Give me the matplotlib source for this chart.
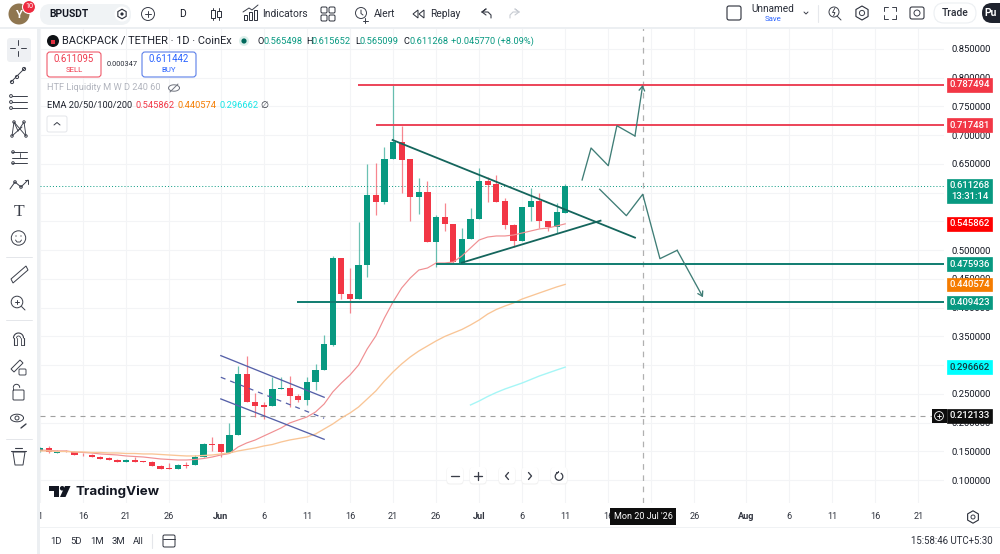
import numpy as np
import matplotlib
matplotlib.use("Agg")
import matplotlib.pyplot as plt
from matplotlib.patches import Circle, FancyBboxPatch, Polygon, Rectangle, RegularPolygon

plt.rcParams['font.family'] = ['Roboto', 'DejaVu Sans']

# day numbers count from 1 Jun, 11 May is -21
days = np.arange(-21, 41)

opens = [.1509, .1561, .1474, .1509, .1491, .1457, .1439, .1404, .1387, .1352, .1317,
         .1352, .1326, .1317, .1248, .1213, .1196, .1265, .1265, .1404, .1630,
         .1630, .1474, .1787, .2848, .2361, .2309, .2291, .2587, .2604, .2465,
         .2396, .2709, .2918, .3352, .4865, .4239, .4152, .4744, .5961, .5839,
         .6587, .6883, .6587, .5926, .6013, .5144, .5578, .5457, .4778, .5196,
         .5544, .6204, .6152, .5857, .5439, .5161, .5752, .5857, .5509, .5404, .565498]
highs = [.1578, .1587, .1518, .1518, .1500, .1474, .1448, .1413, .1396, .1361, .1361,
         .1404, .1335, .1326, .1257, .1300, .1274, .1317, .1439, .1648, .1752,
         .1630, .1996, .2987, .3161, .2517, .2361, .2796, .2796, .2813, .2500,
         .2796, .3022, .3526, .4900, .4865, .4691, .5491, .6500, .6517, .6796,
         .7875, .7161, .6587, .6257, .6204, .5613, .5822, .5457, .5387, .5735,
         .6431, .6274, .6309, .5909, .5457, .5752, .6083, .5996, .5509, .5822, .615652]
lows = [.1491, .1474, .1474, .1491, .1431, .1422, .1396, .1361, .1344, .1309, .1309,
        .1309, .1309, .1239, .1187, .1187, .1187, .1213, .1265, .1396, .1509,
        .1404, .1474, .1787, .2361, .2100, .2065, .2291, .2587, .2274, .2361,
        .2309, .2570, .2918, .3335, .4152, .3909, .4152, .4535, .5613, .5804,
        .6587, .5996, .5509, .5630, .5144, .4709, .5335, .4778, .4778, .5196,
        .5544, .5839, .5839, .5370, .5057, .5161, .5509, .5387, .5335, .5300, .565099]
closes = [.1561, .1491, .1509, .1500, .1439, .1448, .1404, .1370, .1352, .1317, .1352,
          .1317, .1317, .1248, .1196, .1196, .1265, .1248, .1404, .1630, .1613,
          .1491, .1787, .2848, .2361, .2291, .2274, .2587, .2604, .2465, .2396,
          .2709, .2918, .3369, .4865, .4239, .4152, .4744, .5961, .5839, .6587,
          .6883, .6570, .5926, .6013, .5144, .5578, .5457, .4796, .5196, .5544,
          .6204, .6135, .5839, .5439, .5161, .5752, .5857, .5509, .5404, .5665, .611268]

ema20 = [.1526, .1518, .1509, .1509, .1491, .1483, .1474, .1457, .1448, .1439, .1422,
         .1413, .1404, .1387, .1370, .1361, .1352, .1352, .1361, .1378, .1404,
         .1439, .1465, .1578, .1648, .1700, .1770, .1839, .1909, .1996, .2048,
         .2100, .2187, .2326, .2535, .2691, .2830, .3004, .3283, .3509, .3822,
         .4100, .4343, .4517, .4656, .4691, .4778, .4778, .4796, .4900, .5039,
         .5178, .5230, .5248, .5248, .5265, .5300, .5335, .5370, .5387, .5422, .5459]
ema50 = [.1509, .1509, .1500, .1500, .1491, .1491, .1483, .1483, .1474, .1474, .1465,
         .1465, .1457, .1457, .1448, .1439, .1430, .1422, .1422, .1430, .1439,
         .1457, .1474, .1509, .1535, .1561, .1596, .1622, .1665, .1700, .1726,
         .1752, .1804, .1891, .1978, .2082, .2169, .2274, .2413, .2552, .2726,
         .2883, .3022, .3144, .3248, .3335, .3422, .3500, .3561, .3622, .3700,
         .3787, .3891, .3970, .4030, .4083, .4152, .4204, .4257, .4309, .4361, .4406]
ema100_days = np.arange(29, 41)
ema100 = [.2309, .2378, .2457, .2526, .2587, .2639, .2691, .2752, .2813, .2865, .2917, .2967]

# drawings on the chart, (day, price)
level_prices = [0.787494, 0.717481, 0.475936, 0.409423]
level_starts = [15.9, 18.0, 25.0, 8.9]
tri_upper_x, tri_upper_y = [19.95, 48.1], [.6917, .5219]
tri_lower_x, tri_lower_y = [28.0, 44.1], [.4784, .5514]
up_x = [41.96, 43.0, 45.0, 46.0, 48.1, 49.0]
up_y = [.6222, .6778, .6470, .7166, .6987, .7874]
down_x = [44.0, 47.1, 49.0, 51.0, 53.0, 56.0]
down_y = [.6060, .5601, .5973, .4853, .4999, .4182]
chan_x = [0, 12]
chan_upper = [.3167, .2443]
chan_mid = [.2791, .2078]
chan_lower = [.2414, .1712]

last_price = 0.611268
cross_price = 0.212133
cross_day = 49

price_ticks = np.arange(0.10, 0.851, 0.05)
# 0.55 and 0.60 sit fully behind price tags in the picture
price_labels = ['0.100000', '0.150000', '0.200000', '0.250000', '0.300000', '0.350000', '0.400000', '0.450000',
                '0.500000', '', '', '0.650000', '0.700000', '0.750000', '0.800000', '0.850000']
date_ticks = [-21, -16, -11, -6, 0, 5, 10, 15, 20, 25, 30, 35, 40, 45, 50, 55, 61, 66, 71, 76, 81]
date_labels = ['1', '16', '21', '26', 'Jun', '6', '11', '16', '21', '26', 'Jul', '6', '11', '16',
               '', '26', 'Aug', '6', '11', '16', '21']

GREEN = '#089981'
RED = '#f23645'
TEAL = '#0f7c70'
DARK = '#131722'
GRID = '#f3f4f6'

fig = plt.figure(figsize=(10, 5.54), dpi=100, facecolor='white')
ax = fig.add_axes([0.040, 51 / 554, 0.904, 475 / 554])
ax.set_xlim(-20.88, 83.99)
ax.set_ylim(0.0604, 0.8865)
for s in ax.spines.values():
    s.set_visible(False)
ax.set_axisbelow(True)
ax.grid(True, color=GRID, lw=0.8)
ax.yaxis.tick_right()
ax.set_yticks(price_ticks)
ax.set_yticklabels(price_labels, fontsize=6.8, color=DARK)
ax.set_xticks(date_ticks)
ax.set_xticklabels(date_labels, fontsize=6.6, color='#30343f')
for lab, t in zip(ax.get_xticklabels(), date_labels):
    if t in ('Jun', 'Jul', 'Aug'):
        lab.set_fontweight('bold')
ax.tick_params(axis='y', length=0, pad=5.5)
ax.tick_params(axis='x', length=0, pad=6.5)

# candles
opens, highs, lows, closes = map(np.array, (opens, highs, lows, closes))
colors = np.where(closes >= opens, GREEN, RED)
ax.vlines(days, lows, highs, colors=colors, lw=0.9, alpha=0.6, zorder=3)
ax.bar(days, closes - opens, bottom=opens, width=0.72, color=colors, lw=0, zorder=4)

# emas
ax.plot(days, ema20, color='#f08f92', lw=0.85, zorder=5)
ax.plot(days, ema50, color='#f9c596', lw=0.95, zorder=5)
ax.plot(ema100_days, ema100, color='#a6f6f6', lw=1.0, zorder=5)

# crosshair and last price
ax.axhline(last_price, color=GREEN, lw=0.7, ls=(0, (1, 2.2)), zorder=2)
ax.axhline(cross_price, color='#a0a0a0', lw=0.8, ls=(0, (4.5, 4.5)), zorder=2)
ax.axvline(cross_day, color='#b0b0b0', lw=0.9, ls=(0, (4.5, 4.5)), zorder=2)

# drawings
for price, start in zip(level_prices, level_starts):
    col = '#ec4358' if price > last_price else TEAL
    ax.plot([start, 83.99], [price, price], color=col, lw=1.4, zorder=6, solid_capstyle='butt')
ax.plot(tri_upper_x, tri_upper_y, color='#14655c', lw=1.3, zorder=6)
ax.plot(tri_lower_x, tri_lower_y, color='#14655c', lw=1.3, zorder=6)
ax.plot(chan_x, chan_upper, color='#5560a8', lw=0.95, zorder=6)
ax.plot(chan_x, chan_lower, color='#5560a8', lw=0.95, zorder=6)
ax.plot(chan_x, chan_mid, color='#5560a8', lw=0.9, ls=(0, (4, 4)), zorder=6)
for xs, ys in ((up_x, up_y), (down_x, down_y)):
    ax.plot(xs[:-1], ys[:-1], color='#3f7d76', lw=0.95, zorder=6)
    ax.annotate('', xy=(xs[-1], ys[-1]), xytext=(xs[-2], ys[-2]), zorder=6,
                arrowprops=dict(arrowstyle='->,head_length=0.32,head_width=0.2', color='#3f7d76',
                                lw=0.95, shrinkA=0, shrinkB=0))

# price tags on the scale
tag_prices = [0.787494, 0.717481, 0.545862, 0.475936, 0.440574, 0.409423, 0.296662, 0.212133]
tag_fills = ['#f23645', '#f23645', '#ff0000', GREEN, '#f57c00', GREEN, '#00ffff', '#0e0e0e']
tag_texts = ['white', 'white', 'white', 'white', 'white', 'white', '#14343a', 'white']
ytrans = ax.get_yaxis_transform()
tag_x = (969.5 - 40) / 904
for price, fill, tc in zip(tag_prices, tag_fills, tag_texts):
    ax.annotate('%.6f' % price, xy=(tag_x, price), xycoords=ytrans, ha='center', va='center',
                fontsize=6.8, color=tc, fontweight='medium', zorder=12, annotation_clip=False,
                bbox=dict(boxstyle='square,pad=0.24', fc=fill, ec=fill, lw=0.5))
ax.annotate('%.6f\n13:31:14' % last_price, xy=(tag_x, last_price), xycoords=ytrans,
            xytext=(0, -3.6), textcoords='offset points', ha='center', va='center',
            fontsize=6.8, color='white', fontweight='medium', linespacing=1.25, zorder=12,
            annotation_clip=False, bbox=dict(boxstyle='square,pad=0.24', fc=GREEN, ec=GREEN, lw=0.5))

# everything around the chart lives on a pixel overlay
ui = fig.add_axes([0, 0, 1, 1], zorder=20)
ui.set_xlim(0, 1000)
ui.set_ylim(554, 0)
ui.axis('off')
ui.patch.set_alpha(0)


def txt(x, y, s, size=7.2, color=DARK, ha='left', weight='normal', **kw):
    ui.text(x, y, s, fontsize=size, color=color, ha=ha, va='center', fontweight=weight, **kw)


def line(xs, ys, color='#3a3e49', lw=0.7, **kw):
    ui.plot(xs, ys, color=color, lw=lw, solid_capstyle='round', **kw)


def rbox(x0, y0, x1, y1, fc='white', ec='none', lw=0.8, r=3, **kw):
    ui.add_patch(FancyBboxPatch((x0 + r, y0 + r), x1 - x0 - 2 * r, y1 - y0 - 2 * r,
                                boxstyle='round,pad=%g,rounding_size=%g' % (r, r),
                                fc=fc, ec=ec, lw=lw, **kw))


def ring(x, y, r, fc='none', ec='#3a3e49', lw=0.7):
    ui.add_patch(Circle((x, y), r, fc=fc, ec=ec, lw=lw))


# panel borders
ui.add_patch(Rectangle((0, 26.5), 1000, 2.5, fc='#eceff2', ec='none'))
ui.add_patch(Rectangle((36.5, 29), 3, 525, fc='#eceff2', ec='none'))
ui.add_patch(Rectangle((39.5, 526.5), 961, 1.5, fc='#f0f2f4', ec='none'))

# top bar
ring(19, 14, 10.5, fc='#8f7650', ec='none')
txt(19, 14.5, 'Y', 8, 'white', ha='center', weight='bold')
ring(29, 7, 6.5, fc='#ee2a3f', ec='white', lw=0.8)
txt(29, 7, '10', 5.2, 'white', ha='center')
rbox(40, 4, 131, 25, fc='#f0f3f5', r=10)
txt(49, 14, 'BPUSDT', 7.4, weight='bold')
ring(122, 14, 7.5, fc='white', ec='none')
ui.add_patch(RegularPolygon((122, 14), 6, radius=4.8, fc='none', ec='#2a2e39', lw=0.8))
ui.add_patch(Circle((122, 14), 1.6, fc='#2a2e39', ec='none'))
ring(148, 14, 6.5)
line([145, 151], [14, 14])
line([148, 148], [11, 17])
txt(182, 14, 'D', 7.4, ha='center')
for x, y0, y1, w0, w1 in ((213, 8, 20, 10, 18), (219, 8, 20, 11, 17)):
    line([x, x], [y0, y1], lw=0.7)
    ui.add_patch(Rectangle((x - 1.8, w0), 3.6, w1 - w0, fc='white', ec='#2a2e39', lw=0.7, zorder=3))
line([243, 249, 252, 258], [12, 8, 10, 5])
for x, h in ((244, 5), (249, 8), (254, 10)):
    ui.add_patch(Rectangle((x, 20 - h), 3.4, h, fc='white', ec='#2a2e39', lw=0.7))
txt(262, 14, 'Indicators', 7.4, '#2a2e39')
for x, y in ((324, 10), (332, 10), (324, 18), (332, 18)):
    rbox(x - 3, y - 3, x + 3, y + 3, fc='white', ec='#2a2e39', lw=0.7, r=1.3)
ring(361, 13, 5.5)
line([361, 361, 363], [10, 13.5, 15])
line([365, 365], [18, 23])
line([362.5, 367.5], [20.5, 20.5])
txt(374, 14, 'Alert', 7.4, '#2a2e39')
ui.add_patch(Polygon([[418, 10], [413, 14], [418, 18]], closed=True, fc='none', ec='#2a2e39', lw=0.7))
ui.add_patch(Polygon([[424, 10], [419, 14], [424, 18]], closed=True, fc='none', ec='#2a2e39', lw=0.7))
txt(430, 14, 'Replay', 7.4, '#2a2e39')
line([482, 486, 482, 486], [12, 9, 12, 15], lw=0.8)
line([482, 488, 491, 491], [12, 12, 15, 18], lw=0.8)
line([519, 515, 519, 515], [12, 9, 12, 15], color='#c8ccd3', lw=0.8)
line([519, 513, 510, 510], [12, 12, 15, 18], color='#c8ccd3', lw=0.8)
rbox(727, 6, 741, 20, fc='white', ec='#2a2e39', lw=0.8, r=2)
txt(773, 9.5, 'Unnamed', 7.2, '#2a2e39', ha='center')
txt(773, 19, 'Save', 5.6, '#2962ff', ha='center')
line([804, 806, 808], [12, 14, 12])
line([818, 818], [5, 22], color='#e6e8ec', lw=0.8)
ring(834, 12, 5)
line([837, 841], [16, 20])
ui.add_patch(Polygon([[835, 8], [832.5, 12.5], [835, 12.5], [833.5, 16]], closed=False, fc='none',
                     ec='#2a2e39', lw=0.6))
ui.add_patch(RegularPolygon((862, 13), 6, radius=7, fc='none', ec='#2a2e39', lw=0.8))
ring(862, 13, 2.6)
for sx, sy in ((-1, -1), (1, -1), (-1, 1), (1, 1)):
    line([890 + sx * 2, 890 + sx * 6, 890 + sx * 6], [13 + sy * 6, 13 + sy * 6, 13 + sy * 2])
rbox(910, 7, 924, 19, fc='white', ec='#2a2e39', lw=0.75, r=2)
ring(917, 13, 3)
rbox(934, 3, 976, 23, fc='white', ec='#eceff2', lw=0.8, r=10)
txt(955, 13.5, 'Trade', 7.4, '#2a2e39', ha='center', weight='medium')
rbox(982, 3, 1012, 23, fc='#1e222d', r=10)
txt(991, 13.5, 'Pu', 7.4, 'white', ha='center', weight='bold')

# left tool bar
rbox(7, 38, 31, 62, fc='#eef0f3', r=3)
line([10, 15], [48, 48])
line([21, 26], [48, 48])
line([18, 18], [40, 45])
line([18, 18], [51, 56])
line([11, 25], [82, 68])
ring(12, 82, 1.6, fc='white')
ring(17, 77, 1.6, fc='white')
ring(24, 69, 1.6, fc='white')
for y in (96, 102, 108):
    line([12, 27], [y, y])
    ring(11, y, 1.4, fc='white')
for a, b in (((12, 136), (14, 122)), ((14, 122), (18, 131)), ((18, 131), (24, 122)), ((24, 122), (26, 136)),
             ((12, 136), (22, 127)), ((14, 122), (26, 136))):
    line([a[0], b[0]], [a[1], b[1]], lw=0.65)
for x, y in ((12, 136), (14, 122), (24, 122), (26, 136)):
    ring(x, y, 1.3, fc='white', lw=0.6)
for y in (152, 158, 163):
    line([12, 27], [y, y])
ring(13, 152, 1.3, fc='white')
ring(13, 163, 1.3, fc='white')
line([20, 20], [153, 157], lw=0.6)
line([10, 15, 21, 28], [189, 182, 187, 180])
ring(15, 182, 1.3, fc='white')
ring(21, 187, 1.3, fc='white')
line([24.5, 28, 28], [180, 180, 184])
txt(18.5, 211.5, 'T', 12.5, '#3a3e49', ha='center', family='Liberation Serif')
ring(18.5, 238, 7.2)
ui.add_patch(Circle((16, 236), 0.6, fc='#2a2e39'))
ui.add_patch(Circle((21, 236), 0.6, fc='#2a2e39'))
line([15.5, 17, 20, 21.5], [240, 242, 242, 240], lw=0.65)
for y in (257, 320, 439):
    line([6, 32], [y, y], color='#e4e6ea', lw=0.7)
ui.add_patch(Polygon([[11, 279], [26, 266], [28, 270], [13, 283]], closed=True, fc='white', ec='#3a3e49', lw=0.7))
ring(17, 302, 5.8)
line([15, 19], [302, 302])
line([17, 17], [300, 304])
line([21.5, 25], [306.5, 310])
line([13.5, 13.5], [345, 338], lw=0.8)
line([23.5, 23.5], [345, 338], lw=0.8)
theta = np.linspace(np.pi, 2 * np.pi, 25)
line(18.5 + 5 * np.cos(theta), 338 + 5 * np.sin(theta), lw=0.8)
line(18.5 + 2 * np.cos(theta), 338 + 2 * np.sin(theta), lw=0.6)
line([16.5, 16.5], [338, 345], lw=0.6)
line([20.5, 20.5], [338, 345], lw=0.6)
line([13.5, 16.5], [345, 345], lw=0.6)
line([20.5, 23.5], [345, 345], lw=0.6)
ui.add_patch(Polygon([[11, 369], [20, 360], [23, 363], [14, 372]], closed=True, fc='white', ec='#3a3e49', lw=0.7))
rbox(19, 369, 26, 375, fc='white', ec='#3a3e49', lw=0.65, r=1)
rbox(13, 390, 24, 400, fc='white', ec='#3a3e49', lw=0.7, r=1)
line(16.5 + 3.2 * np.cos(theta), 387.5 + 3.2 * np.sin(theta), lw=0.7)
line([13.3, 13.3], [387.5, 390])
theta2 = np.linspace(0, 2 * np.pi, 40)
line(17 + 6.5 * np.cos(theta2), 418 + 3.8 * np.sin(theta2), lw=0.7)
ring(17, 418, 2)
line([21, 26], [428, 424], lw=1.0)
line([11, 26], [451, 451], lw=0.8)
line([15, 22], [448, 448], lw=0.8)
ui.add_patch(Polygon([[13, 452], [15, 465], [23, 465], [25, 452]], closed=True, fc='none', ec='#3a3e49', lw=0.7))

# legend block
ring(53, 41, 6, fc='#0f1115', ec='none')
ui.add_patch(Rectangle((50.7, 40), 4.6, 4, fc='#e03040', ec='none'))
txt(62, 41, 'BACKPACK / TETHER · 1D · CoinEx', 7.9, '#1e222d')
ring(244, 41, 5, fc='#dcefeb', ec='none')
ring(244, 41, 2.6, fc='#00695c', ec='none')
ohlc_letters = ['O', 'H', 'L', 'C']
ohlc_vals = ['0.565498', '0.615652', '0.565099', '0.611268']
letter_x = [257, 306, 355, 403]
value_x = [263, 311, 360, 409]
for s, v, lx, vx in zip(ohlc_letters, ohlc_vals, letter_x, value_x):
    txt(lx, 41.5, s, 6.7)
    txt(vx, 41.5, v, 6.7, GREEN)
txt(451, 41.5, '+0.045770 (+8.09%)', 6.7, GREEN)

rbox(47, 52, 101, 77, fc='white', ec='#ef5a6a', lw=0.8, r=3)
txt(74, 59.5, '0.611095', 6.9, '#ef3a4e', ha='center')
txt(74, 70, 'SELL', 5.6, '#ef3a4e', ha='center')
txt(122, 64.5, '0.000347', 5.3, '#2a2e39', ha='center')
rbox(142, 52, 196, 77, fc='white', ec='#5b7fe8', lw=0.8, r=3)
txt(169, 59.5, '0.611442', 6.9, '#2962ff', ha='center')
txt(169, 70, 'BUY', 5.6, '#2962ff', ha='center')

txt(47, 88, 'HTF Liquidity M W D 240 60', 6.7, '#b2b5be')
line(174 + 5.5 * np.cos(theta2), 88 + 3.2 * np.sin(theta2), color='#70747f', lw=0.7)
line([170, 178], [92, 84], color='#70747f', lw=0.7)
txt(47, 105.5, 'EMA 20/50/100/200', 6.7, '#1e222d')
txt(136, 105.5, '0.545862', 6.7, '#f23645')
txt(178, 105.5, '0.440574', 6.7, '#f57c00')
txt(220, 105.5, '0.296662', 6.7, '#14e6e6')
txt(264, 105.5, '∅', 6.7, '#2a2e39', ha='center')
rbox(47, 116, 67, 132, fc='white', ec='#e3e5e9', lw=0.7, r=2)
line([54, 57, 60], [125, 122.5, 125])

# watermark
ui.add_patch(Polygon([[49, 486], [59, 486], [59, 497], [54, 497], [54, 491], [49, 491]], closed=True,
                     fc='#131722', ec='none'))
ui.add_patch(Circle((62.2, 488.3), 2.3, fc='#131722', ec='none'))
ui.add_patch(Polygon([[65, 486], [70.5, 486], [65.5, 497], [60, 497]], closed=True, fc='#131722', ec='none'))
txt(76, 491.5, 'TradingView', 9.6, '#131722', weight='bold', family='Inter')

# floating buttons
for x in (455, 478, 507, 530, 559):
    rbox(x - 8.5, 467.5, x + 8.5, 484.5, fc='#f0f0f0', ec='none', r=3.5)
    rbox(x - 8, 467, x + 8, 483.5, fc='white', ec='none', r=3.5)
line([451, 459], [476, 476], lw=0.95)
line([474, 482], [476, 476], lw=0.95)
line([478, 478], [472, 480], lw=0.95)
line([508.5, 505.5, 508.5], [472.5, 476, 479.5], lw=0.95)
line([528.5, 531.5, 528.5], [472.5, 476, 479.5], lw=0.95)
arc = np.linspace(-1.0, 4.3, 30)
line(559 + 3.8 * np.cos(arc), 476.5 + 3.8 * np.sin(arc), lw=0.9)
line([556, 558, 558], [472.2, 472.2, 470.5], lw=0.8)

# crosshair date box
ui.add_patch(Rectangle((610, 508), 66, 17, fc='#0e0e0e', ec='none'))
txt(643, 516.5, "Mon 20 Jul '26", 6.5, 'white', ha='center')

# plus button beside the crosshair tag
ui.add_patch(Rectangle((932, 409), 14.5, 14, fc='#0e0e0e', ec='none'))
ring(939, 416, 4.4, ec='white', lw=0.6)
line([937, 941], [416, 416], color='white', lw=0.6)
line([939, 939], [414, 418], color='white', lw=0.6)

# settings under the scale
ui.add_patch(RegularPolygon((973, 517), 6, radius=6.2, fc='none', ec='#2a2e39', lw=0.8))
ring(973, 517, 2)

# bottom bar
for x, s in zip((56, 76, 97, 118, 138), ('1D', '5D', '1M', '3M', 'All')):
    txt(x, 541, s, 6.8, '#2a2e39', ha='center')
line([152, 152], [534, 548], color='#e4e6ea', lw=0.8)
rbox(163, 535, 175, 547, fc='white', ec='#2a2e39', lw=0.7, r=1.5)
line([163, 175], [538.5, 538.5], lw=0.7)
txt(993, 541, '15:58:46 UTC+5:30', 6.9, '#2a2e39', ha='right')

fig.savefig('out.png', dpi=100)
